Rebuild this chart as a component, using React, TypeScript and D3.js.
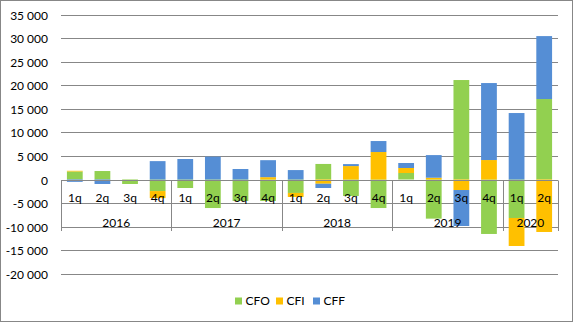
import React from "react";
import * as d3 from "d3";

const quarters = ["1q","2q","3q","4q","1q","2q","3q","4q","1q","2q","3q","4q","1q","2q","3q","4q","1q","2q"];
const years = ["2016","2017","2018","2019","2020"];
const yearSizes = [4, 4, 4, 4, 2];
const seriesNames = ["CFO", "CFI", "CFF"];
const cfo = [1700, 1800, -950, -2450, -1800, -6050, -4550, -4550, -2850, 3300, -3500, -6050, 1380, -8300, 21100, -11550, -8160, 17070];
const cfi = [150, 0, 0, -1500, 0, 0, 0, 500, -850, -900, 2850, 5830, 1060, 380, -2230, 4130, -5940, -11130];
const cff = [-500, -950, 0, 3900, 4350, 4850, 2230, 3600, 2000, -900, 420, 2330, 1060, 4800, -7630, 16330, 14100, 13350];
const yTicks = [-20000, -15000, -10000, -5000, 0, 5000, 10000, 15000, 20000, 25000, 30000, 35000];

const colors = ["#92D050", "#FFC000", "#558ED5"];
const W = 573, H = 322;
const FONT = "Lato, 'Open Sans', sans-serif";
const GRID = "#878787";

export default function App() {
  const left = 61, right = 558, top = 14.5, bottom = 273.8;
  const idx = quarters.map((_, i) => i);
  const x = d3.scaleBand<number>().domain(idx).range([left, right]).paddingInner(0.75 / 1.75).paddingOuter(0.75 / 3.5);
  const step = (right - left) / quarters.length;
  const y = d3.scaleLinear().domain([-20000, 35000]).range([bottom, top]);
  const rows = idx.map(i => ({ CFO: cfo[i], CFI: cfi[i], CFF: cff[i] }));
  const stacked = d3.stack<any>().keys(seriesNames).offset(d3.stackOffsetDiverging)(rows);
  const fmt = d3.formatLocale({ thousands: " ", grouping: [3], decimal: ",", currency: ["", ""], minus: "-" }).format(",d");
  const y0 = Math.round(y(0)) + 0.5;
  const sepBottom = 231;

  // year group boundaries
  const bounds: number[] = [0];
  yearSizes.forEach((s, i) => bounds.push(bounds[i] + s));

  const legendX = [235, 276, 313];

  return (
    <div style={{ position: "fixed", left: 0, top: 0 }}>
      <svg width={W} height={H} style={{ display: "block", fontFamily: FONT }}>
        <rect x={0.5} y={0.5} width={W - 1} height={H - 1} fill="#fff" stroke={GRID} />
        {yTicks.map(t => {
          const yy = Math.round(y(t)) + 0.5;
          return (
            <g key={t}>
              <line x1={left} x2={right} y1={yy} y2={yy} stroke={GRID} strokeWidth={1} />
              <text x={48} y={yy} dy="0.35em" textAnchor="end" fontSize={12} fill="#000">{fmt(t)}</text>
            </g>
          );
        })}
        {stacked.map((s, si) => (
          <g key={s.key} fill={colors[si]}>
            {s.map((d, i) => {
              const a = y(d[0]), b = y(d[1]);
              const h = Math.abs(a - b);
              if (h < 0.01) return null;
              return <rect key={i} x={x(i)} width={x.bandwidth()} y={Math.min(a, b)} height={h} />;
            })}
          </g>
        ))}
        <line x1={left} x2={right} y1={y0} y2={y0} stroke={GRID} />
        {bounds.map((b, i) => {
          const xx = Math.round(left + b * step) + 0.5;
          return <line key={i} x1={xx} x2={xx} y1={y0} y2={sepBottom} stroke={GRID} />;
        })}
        {quarters.map((q, i) => (
          <text key={i} x={(x(i) as number) + x.bandwidth() / 2} y={198} dy="0.35em" textAnchor="middle" fontSize={12} fill="#000">{q}</text>
        ))}
        {years.map((yr, i) => (
          <text key={yr} x={left + (bounds[i] + yearSizes[i] / 2) * step} y={222.5} dy="0.35em" textAnchor="middle" fontSize={12} fill="#000">{yr}</text>
        ))}
        {seriesNames.map((n, i) => (
          <g key={n}>
            <rect x={legendX[i]} y={297.5} width={7} height={7} fill={colors[i]} />
            <text x={legendX[i] + 10.5} y={301} dy="0.35em" fontSize={12} fill="#000">{n}</text>
          </g>
        ))}
      </svg>
    </div>
  );
}
